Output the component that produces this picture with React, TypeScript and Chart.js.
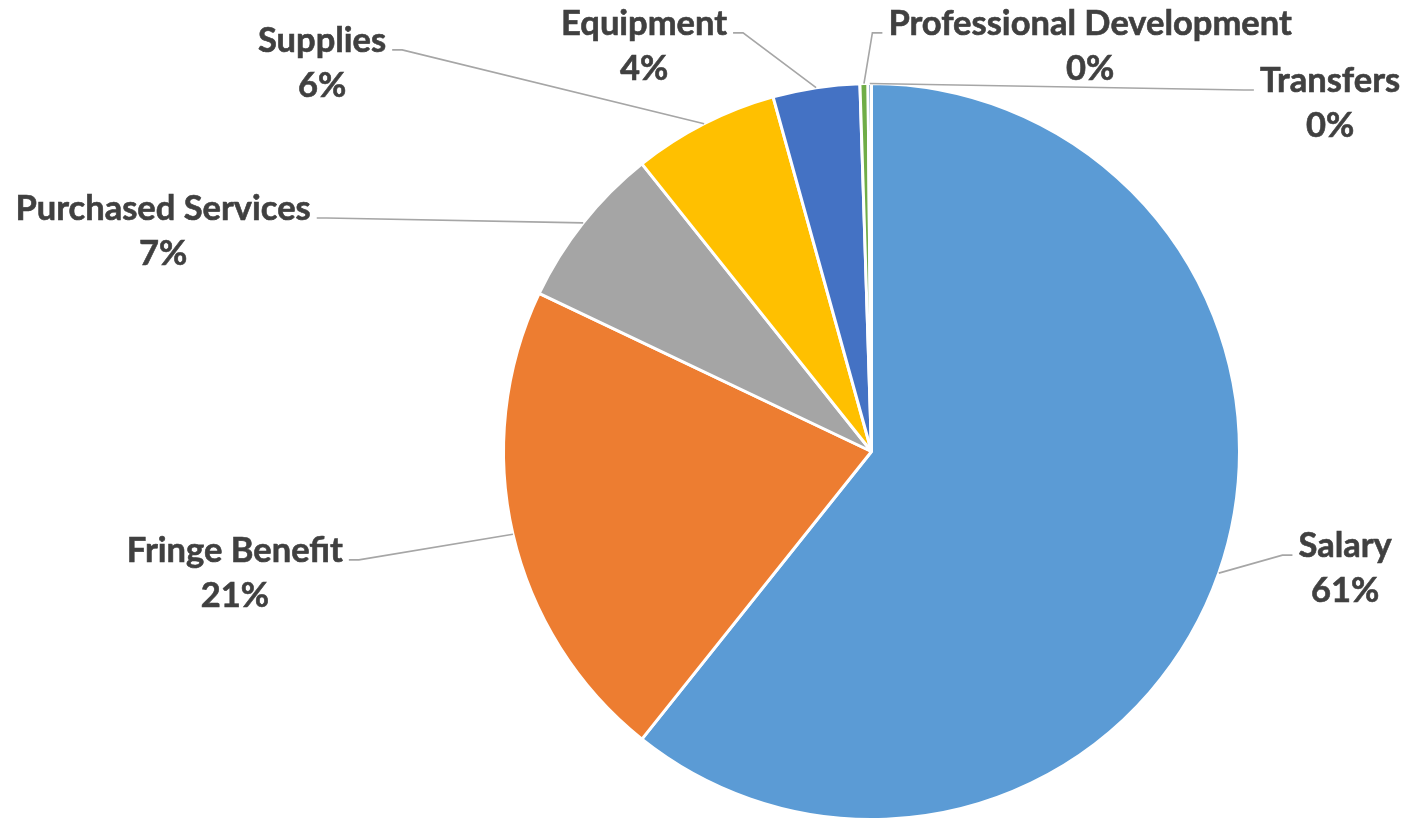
import React, { useEffect, useRef } from "react";
import { Chart, registerables } from "chart.js";

Chart.register(...registerables);

const categories = [
  "Salary",
  "Fringe Benefit",
  "Purchased Services",
  "Supplies",
  "Equipment",
  "Professional Development",
  "Transfers",
];
const shares = [60.6, 21.3, 7.2, 6.4, 3.8, 0.35, 0.15];
const sliceColors = ["#5B9BD5", "#ED7D31", "#A5A5A5", "#FFC000", "#4472C4", "#70AD47", "#255E91"];

// label anchor (text centre x, first-line baseline y) in units of the pie radius, relative to the pie centre
const labelAnchors: [number, number][] = [
  [1.287, 0.287],
  [-1.73, 0.3],
  [-1.925, -0.629],
  [-1.493, -1.086],
  [-0.618, -1.132],
  [0.594, -1.132],
  [1.246, -0.977],
];

const FONT = 'bold 34.5px Lato, "Open Sans", sans-serif';
const LINE_GAP = 45;

const labelPlugin = {
  id: "excelLabels",
  afterDatasetsDraw(chart: any) {
    const ctx: CanvasRenderingContext2D = chart.ctx;
    const meta = chart.getDatasetMeta(0);
    const data: number[] = chart.data.datasets[0].data;
    const total = data.reduce((a, b) => a + b, 0);
    ctx.save();
    ctx.font = FONT;
    meta.data.forEach((arc: any, i: number) => {
      const { x, y, startAngle, endAngle, outerRadius } = arc.getProps(
        ["x", "y", "startAngle", "endAngle", "outerRadius"],
        true
      );
      const mid = (startAngle + endAngle) / 2;
      const px = x + Math.cos(mid) * outerRadius;
      const py = y + Math.sin(mid) * outerRadius;
      const [ax, ay] = labelAnchors[i];
      const cx = x + ax * outerRadius;
      const b1 = y + ay * outerRadius;
      const line1 = categories[i];
      const line2 = Math.round((data[i] / total) * 100) + "%";
      const w = ctx.measureText(line1).width;
      const onRight = cx > px;
      const ly = b1 - 2;
      const endX = onRight ? cx - w / 2 - 6 : cx + w / 2 + 6;
      const elbowX = onRight ? endX - 10 : endX + 10;
      ctx.strokeStyle = "#A6A6A6";
      ctx.lineWidth = 1.6;
      ctx.beginPath();
      ctx.moveTo(px, py);
      ctx.lineTo(elbowX, ly);
      ctx.lineTo(endX, ly);
      ctx.stroke();
      ctx.fillStyle = "#404040";
      ctx.strokeStyle = "#404040";
      ctx.lineWidth = 0.6;
      ctx.textAlign = "center";
      ctx.textBaseline = "alphabetic";
      ctx.fillText(line1, cx, b1);
      ctx.fillText(line2, cx, b1 + LINE_GAP);
      ctx.strokeText(line1, cx, b1);
      ctx.strokeText(line2, cx, b1 + LINE_GAP);
    });
    ctx.restore();
  },
};

export default function App() {
  const ref = useRef<HTMLCanvasElement>(null);
  useEffect(() => {
    document.body.style.margin = "0";
    const chart = new Chart(ref.current!, {
      type: "pie",
      data: {
        labels: categories,
        datasets: [
          {
            data: shares,
            backgroundColor: sliceColors,
            borderColor: "#FFFFFF",
            borderWidth: 3,
          },
        ],
      },
      options: {
        animation: false,
        responsive: true,
        maintainAspectRatio: false,
        layout: { padding: { top: 82, bottom: 0, left: 502, right: 163 } },
        plugins: { legend: { display: false }, tooltip: { enabled: false } },
      },
      plugins: [labelPlugin],
    });
    return () => chart.destroy();
  }, []);
  return (
    <div style={{ position: "fixed", left: 0, top: 0, width: 1404, height: 821, background: "#fff" }}>
      <canvas ref={ref} />
    </div>
  );
}
